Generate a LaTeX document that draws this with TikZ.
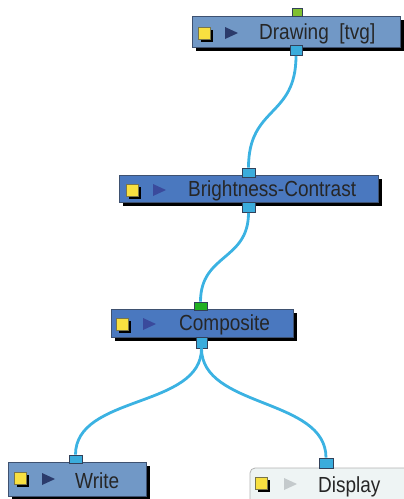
\documentclass[tikz,border=0pt]{standalone}
\usepackage{fontspec}
\usepackage{graphicx}
\setmainfont{Liberation Sans}
\definecolor{nodeA}{HTML}{7198C6}
\definecolor{nodeB}{HTML}{4A78BF}
\definecolor{nodeBorder}{HTML}{3E5170}
\definecolor{portBlue}{HTML}{3AACDC}
\definecolor{portGreenA}{HTML}{80C030}
\definecolor{portGreenB}{HTML}{22B022}
\definecolor{wire}{HTML}{3BB2E2}
\definecolor{dispFill}{HTML}{EEF4F4}
\definecolor{triDark}{HTML}{2B3B6B}
\definecolor{triBlue}{HTML}{3A4A9C}
\definecolor{triGray}{HTML}{C4CACC}
\definecolor{yel}{HTML}{F8E040}
\tikzset{
  nodebox/.style={draw=nodeBorder, line width=0.8pt, inner sep=0pt,
    minimum width=#1, anchor=center},
  shadowed/.style={preaction={fill=black, transform canvas={shift={(3.5pt,-4pt)}}}},
  port/.style={draw=nodeBorder!80!black, line width=0.7pt, fill=portBlue, inner sep=0pt,
    minimum width=12pt, minimum height=10pt},
  wireline/.style={draw=wire, line width=2.8pt},
  lbl/.style={font=\fontsize{19}{19}\selectfont, text=black!85, inner sep=0pt, anchor=west},
  yelsq/.style={draw=black!60!yellow, line width=0.5pt, fill=yel, inner sep=0pt,
    minimum size=12pt, preaction={fill=black, transform canvas={shift={(2.5pt,-2.5pt)}}}},
}
\newcommand{\tri}[3]{\fill[#3] (#1,#2-6) -- (#1+13,#2) -- (#1,#2+6) -- cycle;}
\newcommand{\tall}[1]{\scalebox{1}[1.15]{#1}}
\begin{document}
\begin{tikzpicture}[x=1pt,y=-1pt]
\useasboundingbox (0,0) rectangle (404,499);
% Drawing
\node[nodebox=208pt, minimum height=31pt, fill=nodeA, shadowed] (drw) at (296,31.5) {};
\node[yelsq] (drwY) at (204,33) {};
\tri{225}{33}{triDark}
\node[lbl] (drwT) at (259,34) {\tall{Drawing\ \ [tvg]}};
\node[port, fill=portGreenA, minimum width=10pt, minimum height=8pt] (drwIn) at (297.5,12.5) {};
\node[port] (drwOut) at (296,50.5) {};
% Brightness-Contrast
\node[nodebox=259pt, minimum height=27pt, fill=nodeB, shadowed] (bc) at (248.5,188.5) {};
\node[yelsq] (bcY) at (132,190) {};
\tri{153}{190}{triBlue}
\node[lbl] (bcT) at (188,191) {\tall{Brightness-Contrast}};
\node[port, minimum width=13pt, minimum height=9pt] (bcIn) at (248.5,172.5) {};
\node[port, minimum width=13pt] (bcOut) at (248.5,207.5) {};
% Composite
\node[nodebox=182pt, minimum height=28pt, fill=nodeB, shadowed] (cmp) at (202,323) {};
\node[yelsq] (cmpY) at (122,324) {};
\tri{143}{324}{triBlue}
\node[lbl] (cmpT) at (179,325) {\tall{Composite}};
\node[port, fill=portGreenB, minimum width=13pt, minimum height=8pt] (cmpIn) at (200.5,306) {};
\node[port, minimum width=11pt, minimum height=11pt] (cmpOut) at (201.5,342.5) {};
% Write
\node[nodebox=138pt, minimum height=34pt, fill=nodeA, shadowed] (wrt) at (77,479) {};
\node[yelsq] (wrtY) at (20,478.5) {};
\tri{42}{479}{triDark}
\node[lbl] (wrtT) at (75,481) {\tall{Write}};
\node[port, minimum width=13pt, minimum height=8pt] (wrtIn) at (75.5,459) {};
% Display
\node[nodebox=160pt, minimum height=38pt, fill=dispFill, draw=black!30, rounded corners=5pt] (dsp) at (330,487) {};
\node[yelsq] (dspY) at (261,483.5) {};
\tri{284}{484}{triGray}
\node[lbl] (dspT) at (318,487) {\tall{Display}};
\node[port, minimum width=14pt, minimum height=10pt] (dspIn) at (326,463) {};
% wires
\draw[wireline] (drwOut.south) .. controls +(0,62) and +(0,-62) .. (bcIn.north);
\draw[wireline] (bcOut.south) .. controls +(0,48) and +(0,-48) .. (cmpIn.north);
\draw[wireline] (cmpOut.south) .. controls +(0,60) and +(0,-60) .. (wrtIn.north);
\draw[wireline] (cmpOut.south) .. controls +(0,60) and +(0,-60) .. (dspIn.north);
\end{tikzpicture}
\end{document}
